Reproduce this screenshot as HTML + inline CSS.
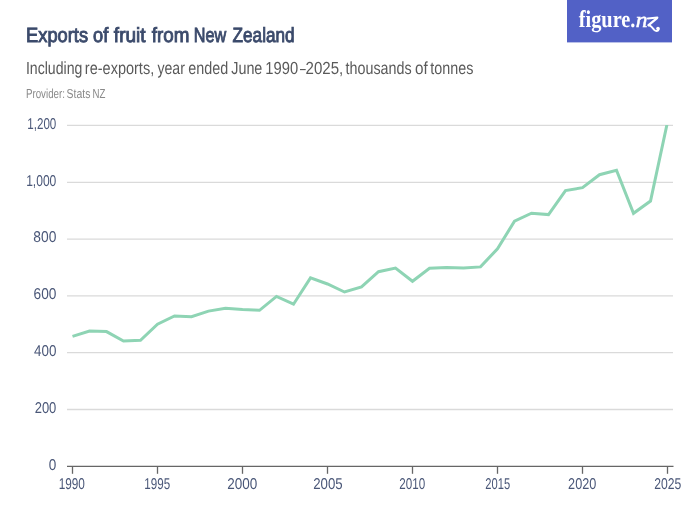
<!DOCTYPE html>
<html><head><meta charset="utf-8"><style>
html,body{margin:0;padding:0;background:#fff;width:700px;height:525px;overflow:hidden}
svg{display:block;will-change:transform}
text{text-rendering:geometricPrecision}
</style></head><body>
<svg width="700" height="525" viewBox="0 0 700 525">
<defs><clipPath id="c"><rect x="60" y="125.9" width="630" height="400"/></clipPath></defs>
<rect x="567" y="0" width="105" height="42.4" fill="#5261c6"/>
<text transform="translate(578.69,27.10) scale(0.8489,1)" style="font-family:'Liberation Serif',serif;font-weight:bold;font-style:normal;font-size:24px" fill="#fff">figure.</text>
<text transform="translate(635.70,26.80) scale(1.0703,1)" style="font-family:'Liberation Serif',serif;font-weight:normal;font-style:italic;font-size:22px" fill="#fff" stroke="#fff" stroke-width="0.5">n</text>
<g fill="none" stroke="#fff" stroke-linecap="round"><path d="M647.9,18.4 L657.4,17.6" stroke-width="2.0"/><path d="M657.0,18.1 L648.6,25.2" stroke-width="2.3"/><path d="M648.6,25.2 C650.8,25.3 652.6,28.0 654.2,29.8 C655.6,31.2 657.8,31.6 658.6,29.6" stroke-width="1.9"/></g><circle cx="658.0" cy="28.6" r="1.8" fill="#fff"/>
<text transform="translate(26.05,42.30) scale(0.8877,1)" style="font-family:'Liberation Sans',sans-serif;font-weight:normal;font-style:normal;font-size:20.6px" fill="#3b4a6b" stroke="#3b4a6b" stroke-width="0.9">Exports</text>
<text transform="translate(93.04,42.30) scale(0.8848,1)" style="font-family:'Liberation Sans',sans-serif;font-weight:normal;font-style:normal;font-size:20.6px" fill="#3b4a6b" stroke="#3b4a6b" stroke-width="0.9">of</text>
<text transform="translate(113.87,42.30) scale(0.9235,1)" style="font-family:'Liberation Sans',sans-serif;font-weight:normal;font-style:normal;font-size:20.6px" fill="#3b4a6b" stroke="#3b4a6b" stroke-width="0.9">fruit</text>
<text transform="translate(151.67,42.30) scale(0.9139,1)" style="font-family:'Liberation Sans',sans-serif;font-weight:normal;font-style:normal;font-size:20.6px" fill="#3b4a6b" stroke="#3b4a6b" stroke-width="0.9">from</text>
<text transform="translate(193.82,42.30) scale(0.7873,1)" style="font-family:'Liberation Sans',sans-serif;font-weight:normal;font-style:normal;font-size:20.6px" fill="#3b4a6b" stroke="#3b4a6b" stroke-width="0.9">New</text>
<text transform="translate(232.58,42.30) scale(0.8332,1)" style="font-family:'Liberation Sans',sans-serif;font-weight:normal;font-style:normal;font-size:20.6px" fill="#3b4a6b" stroke="#3b4a6b" stroke-width="0.9">Zealand</text>
<text transform="translate(25.89,73.60) scale(0.8059,1)" style="font-family:'Liberation Sans',sans-serif;font-weight:normal;font-style:normal;font-size:17.5px" fill="#5a5a5a">Including</text>
<text transform="translate(84.86,73.60) scale(0.8285,1)" style="font-family:'Liberation Sans',sans-serif;font-weight:normal;font-style:normal;font-size:17.5px" fill="#5a5a5a">re-exports,</text>
<text transform="translate(157.40,73.60) scale(0.8089,1)" style="font-family:'Liberation Sans',sans-serif;font-weight:normal;font-style:normal;font-size:17.5px" fill="#5a5a5a">year</text>
<text transform="translate(188.28,73.60) scale(0.8214,1)" style="font-family:'Liberation Sans',sans-serif;font-weight:normal;font-style:normal;font-size:17.5px" fill="#5a5a5a">ended</text>
<text transform="translate(231.19,73.60) scale(0.8216,1)" style="font-family:'Liberation Sans',sans-serif;font-weight:normal;font-style:normal;font-size:17.5px" fill="#5a5a5a">June</text>
<text transform="translate(265.35,73.60) scale(0.8432,1)" style="font-family:'Liberation Sans',sans-serif;font-weight:normal;font-style:normal;font-size:17.5px" fill="#5a5a5a">1990</text>
<text transform="translate(299.90,73.60) scale(0.5846,1)" style="font-family:'Liberation Sans',sans-serif;font-weight:normal;font-style:normal;font-size:17.5px" fill="#5a5a5a">–</text>
<text transform="translate(305.54,73.60) scale(0.8606,1)" style="font-family:'Liberation Sans',sans-serif;font-weight:normal;font-style:normal;font-size:17.5px" fill="#5a5a5a">2025,</text>
<text transform="translate(345.50,73.60) scale(0.8188,1)" style="font-family:'Liberation Sans',sans-serif;font-weight:normal;font-style:normal;font-size:17.5px" fill="#5a5a5a">thousands</text>
<text transform="translate(415.05,73.60) scale(0.8714,1)" style="font-family:'Liberation Sans',sans-serif;font-weight:normal;font-style:normal;font-size:17.5px" fill="#5a5a5a">of</text>
<text transform="translate(430.30,73.60) scale(0.8193,1)" style="font-family:'Liberation Sans',sans-serif;font-weight:normal;font-style:normal;font-size:17.5px" fill="#5a5a5a">tonnes</text>
<text transform="translate(25.95,97.60) scale(0.7497,1)" style="font-family:'Liberation Sans',sans-serif;font-weight:normal;font-style:normal;font-size:13px" fill="#8a8a8a">Provider:</text>
<text transform="translate(66.60,97.60) scale(0.8035,1)" style="font-family:'Liberation Sans',sans-serif;font-weight:normal;font-style:normal;font-size:13px" fill="#8a8a8a">Stats</text>
<text transform="translate(92.56,97.60) scale(0.7438,1)" style="font-family:'Liberation Sans',sans-serif;font-weight:normal;font-style:normal;font-size:13px" fill="#8a8a8a">NZ</text>
<line x1="67" y1="125.4" x2="673" y2="125.4" stroke="#dadada" stroke-width="1.3"/>
<line x1="67" y1="182.3" x2="673" y2="182.3" stroke="#dadada" stroke-width="1.3"/>
<line x1="67" y1="239.1" x2="673" y2="239.1" stroke="#dadada" stroke-width="1.3"/>
<line x1="67" y1="295.9" x2="673" y2="295.9" stroke="#dadada" stroke-width="1.3"/>
<line x1="67" y1="352.7" x2="673" y2="352.7" stroke="#dadada" stroke-width="1.3"/>
<line x1="67" y1="409.5" x2="673" y2="409.5" stroke="#dadada" stroke-width="1.3"/>
<text transform="translate(27.27,128.60) scale(0.7436,1)" style="font-family:'Liberation Sans',sans-serif;font-weight:normal;font-style:normal;font-size:15.6px" fill="#4a5778">1,200</text>
<text transform="translate(26.13,185.50) scale(0.7732,1)" style="font-family:'Liberation Sans',sans-serif;font-weight:normal;font-style:normal;font-size:15.6px" fill="#4a5778">1,000</text>
<text transform="translate(33.34,242.30) scale(0.8848,1)" style="font-family:'Liberation Sans',sans-serif;font-weight:normal;font-style:normal;font-size:15.6px" fill="#4a5778">800</text>
<text transform="translate(33.54,299.10) scale(0.8768,1)" style="font-family:'Liberation Sans',sans-serif;font-weight:normal;font-style:normal;font-size:15.6px" fill="#4a5778">600</text>
<text transform="translate(33.99,355.90) scale(0.8594,1)" style="font-family:'Liberation Sans',sans-serif;font-weight:normal;font-style:normal;font-size:15.6px" fill="#4a5778">400</text>
<text transform="translate(34.68,412.70) scale(0.8323,1)" style="font-family:'Liberation Sans',sans-serif;font-weight:normal;font-style:normal;font-size:15.6px" fill="#4a5778">200</text>
<text transform="translate(48.87,469.70) scale(0.8667,1)" style="font-family:'Liberation Sans',sans-serif;font-weight:normal;font-style:normal;font-size:15.6px" fill="#4a5778">0</text>
<line x1="72.5" y1="466" x2="72.5" y2="473.8" stroke="#666" stroke-width="1.3"/>
<text transform="translate(58.65,488.90) scale(0.7573,1)" style="font-family:'Liberation Sans',sans-serif;font-weight:normal;font-style:normal;font-size:15.6px" fill="#4a5778">1990</text>
<line x1="157.5" y1="466" x2="157.5" y2="473.8" stroke="#666" stroke-width="1.3"/>
<text transform="translate(144.37,488.90) scale(0.7450,1)" style="font-family:'Liberation Sans',sans-serif;font-weight:normal;font-style:normal;font-size:15.6px" fill="#4a5778">1995</text>
<line x1="242.5" y1="466" x2="242.5" y2="473.8" stroke="#666" stroke-width="1.3"/>
<text transform="translate(227.25,488.90) scale(0.8662,1)" style="font-family:'Liberation Sans',sans-serif;font-weight:normal;font-style:normal;font-size:15.6px" fill="#4a5778">2000</text>
<line x1="327.5" y1="466" x2="327.5" y2="473.8" stroke="#666" stroke-width="1.3"/>
<text transform="translate(313.26,488.90) scale(0.8481,1)" style="font-family:'Liberation Sans',sans-serif;font-weight:normal;font-style:normal;font-size:15.6px" fill="#4a5778">2005</text>
<line x1="412.5" y1="466" x2="412.5" y2="473.8" stroke="#666" stroke-width="1.3"/>
<text transform="translate(399.34,488.90) scale(0.7459,1)" style="font-family:'Liberation Sans',sans-serif;font-weight:normal;font-style:normal;font-size:15.6px" fill="#4a5778">2010</text>
<line x1="497.5" y1="466" x2="497.5" y2="473.8" stroke="#666" stroke-width="1.3"/>
<text transform="translate(485.36,488.90) scale(0.7158,1)" style="font-family:'Liberation Sans',sans-serif;font-weight:normal;font-style:normal;font-size:15.6px" fill="#4a5778">2015</text>
<line x1="582.5" y1="466" x2="582.5" y2="473.8" stroke="#666" stroke-width="1.3"/>
<text transform="translate(568.09,488.90) scale(0.8120,1)" style="font-family:'Liberation Sans',sans-serif;font-weight:normal;font-style:normal;font-size:15.6px" fill="#4a5778">2020</text>
<line x1="667.5" y1="466" x2="667.5" y2="473.8" stroke="#666" stroke-width="1.3"/>
<text transform="translate(654.22,488.90) scale(0.7789,1)" style="font-family:'Liberation Sans',sans-serif;font-weight:normal;font-style:normal;font-size:15.6px" fill="#4a5778">2025</text>
<line x1="67" y1="466.4" x2="673.5" y2="466.4" stroke="#666" stroke-width="1.4"/>
<polyline clip-path="url(#c)" points="72.5,336.4 89.5,331.1 106.5,331.6 123.5,341 140.5,340.3 157.5,324.2 174.5,316 191.5,316.7 208.5,311.1 225.5,308.3 242.5,309.5 259.5,310.3 276.5,296.4 293.5,304.2 310.5,277.9 327.5,284 344.5,292.0 361.5,286.9 378.5,271.7 395.5,268.1 412.5,281.3 429.5,268.3 446.5,267.4 463.5,268.1 480.5,266.9 497.5,248.9 514.5,221.1 531.5,213.2 548.5,214.6 565.5,190.6 582.5,187.7 599.5,174.7 616.5,170.3 633.5,213.3 650.5,201 667.5,122.1" fill="none" stroke="#8ed4b4" stroke-width="3" stroke-linejoin="miter"/>
</svg>
</body></html>
